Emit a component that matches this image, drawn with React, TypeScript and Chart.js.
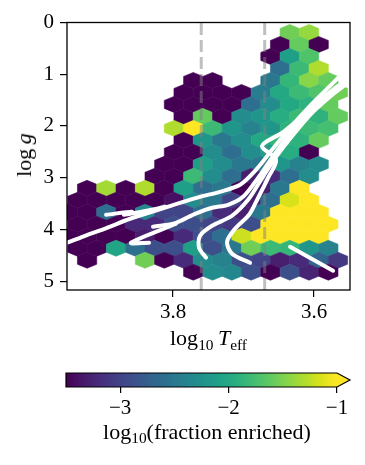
import React, { useEffect, useRef } from "react";
import { Chart, registerables } from "chart.js";

Chart.register(...registerables);

const _ = null;

// ---- hexbin values: log10(fraction enriched), one array per hex row (top row first), 15 columns (hot -> cool)
const hexRow00 = [_, _, _, _, _, _, _, _, _, _, _, -1.55, -1.4, _, _];
const hexRow01 = [_, _, _, _, _, _, _, _, _, _, _, -3.6, -1.6, -3.6, _];
const hexRow02 = [_, _, _, _, _, _, _, _, _, _, -3.6, -2.1, -1.7, _, _];
const hexRow03 = [_, _, _, _, _, _, _, _, _, _, _, -2.6, -1.8, -1.3, _];
const hexRow04 = [_, _, _, _, _, _, -3.6, -3.6, _, _, -2.5, -1.85, -1.45, -1.6, _];
const hexRow05 = [_, _, _, _, _, _, -3.6, -3.6, -3.6, -3.6, -2.45, -2.0, -1.8, -1.7, -1.55];
const hexRow06 = [_, _, _, _, _, -3.6, -3.6, -3.6, -3.6, -2.6, -2.3, -2.0, -1.9, -1.6, _];
const hexRow07 = [_, _, _, _, _, _, -3.6, -1.6, -3.6, -2.3, -2.2, -1.95, -1.8, -1.9, -1.6];
const hexRow08 = [_, _, _, _, _, -1.3, -0.9, -1.8, -2.2, -2.4, -2.2, -1.9, -1.8, -1.75, _];
const hexRow09 = [_, _, _, _, _, _, -3.6, -2.2, -2.5, -2.3, -2.0, -1.85, -1.9, -1.6, _];
const hexRow10 = [_, _, _, _, _, -3.6, -3.6, -2.3, -2.6, -2.3, -2.1, -1.95, -3.6, _, _];
const hexRow11 = [_, _, _, _, _, -3.6, -3.6, -2.1, -2.3, -2.5, -2.5, -2.2, -2.4, -2.3, _];
const hexRow12 = [_, _, _, _, -3.6, -3.6, -1.8, -2.3, -2.6, -3.3, -3.2, -2.6, -2.3, _, _];
const hexRow13 = [_, -3.6, -1.35, -3.6, -1.3, -3.6, -2.1, -2.6, -2.5, -3.5, -3.3, -2.5, -0.9, _, _];
const hexRow14 = [-3.6, -3.6, -3.6, -3.6, -3.6, -3.4, -2.3, -2.5, -3.0, -3.3, -2.6, -1.15, -0.9, _, _];
const hexRow15 = [-3.6, -3.6, -2.6, -3.6, -2.35, -3.0, -3.0, -2.6, -3.2, -3.3, -2.5, -0.9, -0.9, -0.9, _];
const hexRow16 = [-3.6, -3.6, -3.6, -3.2, -3.2, -2.9, -2.9, -3.0, -3.1, -2.9, -0.9, -0.9, -0.9, -0.9, _];
const hexRow17 = [-3.6, -3.6, -3.6, -3.6, -3.3, -3.5, -3.2, -2.9, -2.6, -1.2, -0.9, -0.9, -0.9, -0.9, _];
const hexRow18 = [-3.6, -3.6, -2.05, -2.6, -2.9, -2.9, -2.1, -2.9, -2.5, -1.55, -1.8, -1.85, -2.2, -2.4, _];
const hexRow19 = [_, -3.6, _, _, -1.55, -3.6, -3.2, -2.3, -2.4, -2.9, -3.0, -3.3, -3.2, -2.7, -3.1];
const hexRow20 = [_, _, _, _, _, _, -3.6, -2.3, -2.35, -2.9, -3.6, -2.9, -3.25, -3.6, _];

const hexRows = [
  hexRow00, hexRow01, hexRow02, hexRow03, hexRow04, hexRow05, hexRow06,
  hexRow07, hexRow08, hexRow09, hexRow10, hexRow11, hexRow12, hexRow13,
  hexRow14, hexRow15, hexRow16, hexRow17, hexRow18, hexRow19, hexRow20,
];

// hex lattice (data units)
const hexLogT0 = 3.9356; // column 0 of even rows
const hexLogTStep = 0.027376;
const hexLogg0 = 0.193; // row 0
const hexLoggStep = 0.23166;

// ---- evolutionary tracks [log Teff, log g]
const trackA = [
  [3.9574, 4.295], [3.9248, 4.122], [3.8936, 3.967], [3.861, 3.793], [3.8255, 3.639],
  [3.7901, 3.485], [3.7617, 3.369], [3.7333, 3.272], [3.705, 3.137], [3.6823, 2.847],
  [3.6596, 2.461], [3.634, 2.037], [3.6057, 1.612], [3.5801, 1.264], [3.5603, 0.994],
];
const trackB = [[3.895, 3.716], [3.8582, 3.658], [3.8695, 3.716], [3.8298, 3.62], [3.8113, 3.562]];
const trackC = [
  [3.8284, 3.948], [3.7957, 3.871], [3.7688, 3.697], [3.7447, 3.581], [3.722, 3.523],
  [3.7007, 3.369], [3.6794, 3.002], [3.6567, 2.558], [3.6298, 2.075], [3.5986, 1.651],
  [3.573, 1.342], [3.556, 1.149],
];
const trackCHook = [[3.834, 4.257], [3.8596, 4.257], [3.7957, 3.89]];
const trackD = [
  [3.7532, 4.546], [3.7631, 4.353], [3.7617, 4.122], [3.7447, 3.929], [3.7163, 3.735],
  [3.6936, 3.427], [3.6752, 3.041], [3.6539, 2.596], [3.6298, 2.172], [3.6028, 1.747],
  [3.5745, 1.4], [3.556, 1.207],
];
const trackE = [
  [3.6908, 4.643], [3.7163, 4.469], [3.7234, 4.237], [3.7121, 3.986], [3.6922, 3.716],
  [3.6794, 3.388], [3.6652, 3.002], [3.6539, 2.654], [3.6738, 2.384], [3.6454, 2.133],
  [3.6199, 1.844], [3.5915, 1.496], [3.566, 1.226],
];
const trackF = [[3.634, 4.334], [3.573, 4.797]];
const tracks = [trackA, trackB, trackC, trackCHook, trackD, trackE, trackF];

const dashedLogT = [3.76, 3.67];

// ---- axes
const logTMin = 3.549;
const logTMax = 3.9504;
const loggMin = 0;
const loggMax = 5.17;
const logTTicks = [3.8, 3.6];
const loggTicks = [0, 1, 2, 3, 4, 5];
const cbarMin = -3.5;
const cbarMax = -1;
const cbarTicks = [-3, -2, -1];

const VIRIDIS = [
  "#440154", "#48186a", "#472d7b", "#424086", "#3b528b", "#33638d", "#2c728e", "#26828e",
  "#21918c", "#1fa088", "#28ae80", "#3fbc73", "#5ec962", "#84d44b", "#addc30", "#d8e219", "#fde725",
];
const hexToRgb = (h: string) => [1, 3, 5].map((i) => parseInt(h.slice(i, i + 2), 16));
function viridis(v: number) {
  let t = (v - cbarMin) / (cbarMax - cbarMin);
  t = Math.max(0, Math.min(1, t));
  const f = t * (VIRIDIS.length - 1);
  const i = Math.min(Math.floor(f), VIRIDIS.length - 2);
  const a = hexToRgb(VIRIDIS[i]);
  const b = hexToRgb(VIRIDIS[i + 1]);
  const r = f - i;
  const c = a.map((av, k) => Math.round(av + (b[k] - av) * r));
  return `rgb(${c[0]},${c[1]},${c[2]})`;
}

const FONT = "'Liberation Serif', 'DejaVu Serif', serif";

const hexPlugin = {
  id: "hexbin",
  beforeDatasetsDraw(chart: any) {
    const { ctx, chartArea, scales } = chart;
    const xs = scales.x;
    const ys = scales.y;
    const sy = 2 * hexLoggStep;
    const verts = [[0.5, -0.5], [0.5, 0.5], [0, 1], [-0.5, 0.5], [-0.5, -0.5], [0, -1]];
    ctx.save();
    ctx.beginPath();
    ctx.rect(chartArea.left, chartArea.top, chartArea.right - chartArea.left, chartArea.bottom - chartArea.top);
    ctx.clip();
    hexRows.forEach((row, k) => {
      const cy = hexLogg0 + k * hexLoggStep;
      const shift = k % 2 === 0 ? 0 : hexLogTStep / 2;
      row.forEach((v, c) => {
        if (v === null) return;
        const cx = hexLogT0 - c * hexLogTStep + shift;
        ctx.beginPath();
        verts.forEach(([dx, dy], i) => {
          const px = xs.getPixelForValue(cx + dx * hexLogTStep);
          const py = ys.getPixelForValue(cy + (dy * sy) / 3);
          if (i === 0) ctx.moveTo(px, py);
          else ctx.lineTo(px, py);
        });
        ctx.closePath();
        const col = viridis(v as number);
        ctx.fillStyle = col;
        ctx.strokeStyle = col;
        ctx.lineWidth = 0.6;
        ctx.fill();
        ctx.stroke();
      });
    });
    ctx.restore();
  },
};

const framePlugin = {
  id: "frame",
  afterDatasetsDraw(chart: any) {
    const { ctx, chartArea } = chart;
    ctx.save();
    ctx.strokeStyle = "#000";
    ctx.lineWidth = 1.3;
    ctx.strokeRect(chartArea.left, chartArea.top, chartArea.right - chartArea.left, chartArea.bottom - chartArea.top);
    ctx.restore();
  },
};

const cbarPlugin = {
  id: "cbar",
  beforeDatasetsDraw(chart: any) {
    const { ctx, chartArea, scales } = chart;
    const xs = scales.x;
    const { left, right, top, bottom } = chartArea;
    const grad = ctx.createLinearGradient(left, 0, right, 0);
    VIRIDIS.forEach((c, i) => {
      const v = cbarMin + (i / (VIRIDIS.length - 1)) * (cbarMax - cbarMin);
      const p = (xs.getPixelForValue(v) - left) / (right - left);
      grad.addColorStop(Math.max(0, Math.min(1, p)), c);
    });
    ctx.save();
    ctx.fillStyle = grad;
    ctx.fillRect(left, top, right - left, bottom - top);
    const tip = right + 13;
    ctx.beginPath();
    ctx.moveTo(right, top);
    ctx.lineTo(tip, (top + bottom) / 2);
    ctx.lineTo(right, bottom);
    ctx.closePath();
    ctx.fillStyle = viridis(cbarMax + 1);
    ctx.fill();
    ctx.beginPath();
    ctx.moveTo(left, top);
    ctx.lineTo(right, top);
    ctx.lineTo(tip, (top + bottom) / 2);
    ctx.lineTo(right, bottom);
    ctx.lineTo(left, bottom);
    ctx.closePath();
    ctx.strokeStyle = "#000";
    ctx.lineWidth = 1.2;
    ctx.stroke();
    ctx.restore();
  },
};

const Sub = ({ children }: { children: React.ReactNode }) => (
  <span style={{ fontSize: "0.7em", position: "relative", top: "0.3em" }}>{children}</span>
);

export default function App() {
  const mainRef = useRef<HTMLCanvasElement>(null);
  const cbarRef = useRef<HTMLCanvasElement>(null);

  useEffect(() => {
    document.body.style.margin = "0";
    const tickFont = { family: FONT, size: 21 };
    const gridStyle = { drawOnChartArea: false, drawTicks: true, tickLength: 7, color: "#000", lineWidth: 1.2 };

    const trackSets = tracks.map((t) => ({
      data: t.map(([x, y]) => ({ x, y })),
      borderColor: "#ffffff",
      borderWidth: 4,
      borderCapStyle: "round",
      borderJoinStyle: "round",
      pointRadius: 0,
      tension: 0.3,
      fill: false,
      clip: 0,
    }));
    const dashSets = dashedLogT.map((x) => ({
      data: [{ x, y: loggMax }, { x, y: loggMin }],
      borderColor: "rgba(128,128,128,0.5)",
      borderWidth: 3,
      borderDash: [12, 5],
      pointRadius: 0,
      tension: 0,
      fill: false,
      clip: 0,
    }));

    const main = new Chart(mainRef.current as HTMLCanvasElement, {
      type: "line",
      data: { datasets: [...trackSets, ...dashSets] as any },
      options: {
        responsive: false,
        animation: false,
        devicePixelRatio: 1,
        events: [],
        layout: { padding: { top: 22.5, right: 15, left: 0, bottom: 0 } },
        plugins: { legend: { display: false }, tooltip: { enabled: false } },
        scales: {
          x: {
            type: "linear",
            reverse: true,
            min: logTMin,
            max: logTMax,
            afterBuildTicks: (s: any) => {
              s.ticks = logTTicks.map((value) => ({ value }));
            },
            afterFit: (s: any) => {
              s.height = 40;
            },
            ticks: { font: tickFont, color: "#000", padding: 3, maxRotation: 0, callback: (v: any) => Number(v).toFixed(1) },
            grid: gridStyle,
            border: { display: false },
          },
          y: {
            type: "linear",
            reverse: true,
            min: loggMin,
            max: loggMax,
            afterBuildTicks: (s: any) => {
              s.ticks = loggTicks.map((value) => ({ value }));
            },
            afterFit: (s: any) => {
              s.width = 67;
            },
            ticks: { font: tickFont, color: "#000", padding: 6, callback: (v: any) => String(v) },
            grid: gridStyle,
            border: { display: false },
          },
        },
      } as any,
      plugins: [hexPlugin, framePlugin],
    });

    const cbar = new Chart(cbarRef.current as HTMLCanvasElement, {
      type: "scatter",
      data: { datasets: [{ data: [] }] },
      options: {
        responsive: false,
        animation: false,
        devicePixelRatio: 1,
        events: [],
        layout: { padding: { top: 13, left: 66, right: 28, bottom: 0 } },
        plugins: { legend: { display: false }, tooltip: { enabled: false } },
        scales: {
          x: {
            type: "linear",
            min: cbarMin,
            max: cbarMax,
            afterBuildTicks: (s: any) => {
              s.ticks = cbarTicks.map((value) => ({ value }));
            },
            afterFit: (s: any) => {
              s.height = 43;
            },
            ticks: {
              font: tickFont,
              color: "#000",
              padding: 3,
              maxRotation: 0,
              callback: (v: any) => (Number(v) < 0 ? "\u2212" + Math.abs(Number(v)) : String(v)),
            },
            grid: { ...gridStyle, tickLength: 6 },
            border: { display: false },
          },
          y: { display: false, min: 0, max: 1 },
        },
      } as any,
      plugins: [cbarPlugin],
    });

    return () => {
      main.destroy();
      cbar.destroy();
    };
  }, []);

  const labelStyle: React.CSSProperties = {
    position: "absolute",
    fontSize: 22,
    lineHeight: "22px",
    whiteSpace: "nowrap",
    fontFamily: FONT,
    color: "#000",
  };

  return (
    <div style={{ position: "fixed", left: 0, top: 0, width: 365, height: 465, background: "#fff", fontFamily: FONT }}>
      <canvas ref={mainRef} width={365} height={330} style={{ position: "absolute", left: 0, top: 0 }} />
      <canvas ref={cbarRef} width={365} height={70} style={{ position: "absolute", left: 0, top: 360 }} />
      <div style={{ ...labelStyle, left: 208.5, top: 327, transform: "translateX(-50%)" }}>
        log<Sub>10</Sub>&#8201;<i>T</i>
        <Sub>eff</Sub>
      </div>
      <div style={{ ...labelStyle, left: 24, top: 155, transform: "translate(-50%, -50%) rotate(-90deg)" }}>
        log&#8201;<i>g</i>
      </div>
      <div style={{ ...labelStyle, left: 207, top: 420.5, transform: "translateX(-50%)" }}>
        log<Sub>10</Sub>(fraction enriched)
      </div>
    </div>
  );
}
